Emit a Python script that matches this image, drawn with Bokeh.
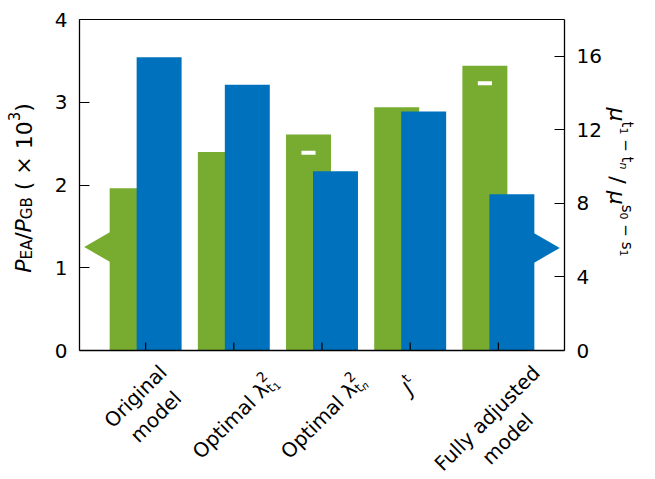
import math
from bokeh.plotting import figure
from bokeh.models import Range1d, LinearAxis, Label, FixedTicker, ColumnDataSource
from bokeh.transform import dodge
from bokeh.embed import file_html
from bokeh.resources import INLINE

# ---------------- data ----------------
cat_pos = [1, 2, 3, 4, 5]
power_ratio = [1.96, 2.40, 2.61, 2.94, 3.44]      # P_EA/P_GB (x10^3), left axis
mu_ratio = [15.95, 14.45, 9.75, 13.0, 8.5]        # mu^{t1-tn}/mu^{s0-s1}, right axis
mark_pos = [3, 5]
mark_val = [2.39, 3.23]                           # white reference marks (left axis)
left_arrow_x = [0.5]
left_arrow_val = [1.25]                           # left axis
right_arrow_x = [5.5]
right_arrow_val = [5.58]                          # right axis
left_ticks = [0, 1, 2, 3, 4]
right_ticks = [0, 4, 8, 12, 16]
X_LIM = (0.25, 5.75)
Y_LIM = (0, 4)
MU_LIM = (0, 18)

GREEN = "#77AC30"
BLUE = "#0072BD"
FONT = "DejaVu Sans"

# canvas geometry (plot box at px 79..564 horizontally, 19..350 vertically)
CW_PX, CH_PX = 650, 475
BOX_L, BOX_R, BOX_T, BOX_B = 79, 564, 19, 350
xpu = (BOX_R - BOX_L) / (X_LIM[1] - X_LIM[0])
ypu = (BOX_B - BOX_T) / (Y_LIM[1] - Y_LIM[0])
x_rng = Range1d(X_LIM[0] - BOX_L / xpu, X_LIM[1] + (CW_PX - BOX_R) / xpu)
y_lo = Y_LIM[0] - (CH_PX - BOX_B) / ypu
y_hi = Y_LIM[1] + BOX_T / ypu
k = (MU_LIM[1] - MU_LIM[0]) / (Y_LIM[1] - Y_LIM[0])

p = figure(width=CW_PX, height=CH_PX, x_range=x_rng, y_range=Range1d(y_lo, y_hi),
           output_backend="svg", toolbar_location=None,
           min_border_left=0, min_border_right=0, min_border_top=0, min_border_bottom=0)
p.extra_y_ranges = {"mu": Range1d(y_lo * k, y_hi * k)}
p.xgrid.visible = False
p.ygrid.visible = False
p.outline_line_color = None

def style_axis(ax):
    ax.axis_line_color = "black"
    ax.axis_line_width = 1.3
    ax.major_tick_line_color = "black"
    ax.major_tick_line_width = 1.2
    ax.major_tick_in = 10
    ax.major_tick_out = 0
    ax.minor_tick_in = 0
    ax.minor_tick_out = 0
    ax.major_label_text_font = FONT
    ax.major_label_text_font_size = "20px"
    ax.major_label_text_color = "black"
    ax.major_label_standoff = 12

ly = p.yaxis[0]
style_axis(ly)
ly.ticker = FixedTicker(ticks=left_ticks)
ly.fixed_location = X_LIM[0]
ly.bounds = Y_LIM

bx = p.xaxis[0]
style_axis(bx)
bx.ticker = FixedTicker(ticks=[])
bx.fixed_location = Y_LIM[0]
bx.bounds = X_LIM

rax = LinearAxis(y_range_name="mu", ticker=FixedTicker(ticks=right_ticks))
style_axis(rax)
rax.fixed_location = X_LIM[1]
rax.bounds = MU_LIM
p.add_layout(rax, "right")

tax = LinearAxis(ticker=FixedTicker(ticks=[]))
tax.axis_line_color = "black"
tax.axis_line_width = 1.2
tax.major_tick_in = 0
tax.major_tick_out = 0
tax.minor_tick_in = 0
tax.minor_tick_out = 0
tax.fixed_location = Y_LIM[1]
tax.bounds = X_LIM
p.add_layout(tax, "above")

# arrows (behind bars)
p.scatter(x=left_arrow_x, y=left_arrow_val, marker="triangle", size=30, angle=math.pi / 2,
          fill_color=GREEN, line_color=None)
p.scatter(x=right_arrow_x, y=right_arrow_val, marker="triangle", size=30, angle=-math.pi / 2,
          fill_color=BLUE, line_color=None, y_range_name="mu")

src = ColumnDataSource(dict(x=cat_pos, g=power_ratio, b=mu_ratio))
OFF = 0.153
BW = 0.51
p.vbar(x=dodge("x", -OFF, range=p.x_range), top="g", width=BW, source=src,
       fill_color=GREEN, line_color=None)
p.vbar(x=dodge("x", OFF, range=p.x_range), top="b", width=BW, source=src,
       fill_color=BLUE, line_color=None, y_range_name="mu")

# category tick marks on the bottom axis (pointing inward)
p.ray(x=cat_pos, y=[Y_LIM[0]] * len(cat_pos), length=8, length_units="screen",
      angle=math.pi / 2, line_color="black", line_width=1.2)

msrc = ColumnDataSource(dict(x=mark_pos, y=mark_val))
p.rect(x=dodge("x", -OFF, range=p.x_range), y="y", width=0.16, height=4, height_units="screen",
       source=msrc, fill_color="white", line_color=None)

# ---------------- text composition ----------------
CWID = {' ': 0.318, '(': 0.390, ')': 0.390, '×': 0.838, '−': 0.838, '/': 0.337,
        '0': 0.636, '1': 0.636, '2': 0.636, '3': 0.636, 'P': 0.603, 'E': 0.632,
        'A': 0.684, 'G': 0.775, 'B': 0.686, 'μ': 0.636, 't': 0.392, 's': 0.521,
        'n': 0.634, 'O': 0.787, 'p': 0.635, 'i': 0.278, 'm': 0.974, 'a': 0.613,
        'l': 0.278, 'λ': 0.592, 'J': 0.295}

def text_w(s, size):
    return sum(CWID.get(c, 0.6) for c in s) * size

def compose(runs, cx, cy, angle, lift=0.0, x_data=None):
    d = (math.cos(angle), math.sin(angle))
    u = (-math.sin(angle), math.cos(angle))
    advs = [(r[4] if r[4] is not None else text_w(r[0], r[1])) for r in runs]
    total = sum(advs)
    sx = cx - d[0] * total / 2 - u[0] * lift
    sy = cy - d[1] * total / 2 - u[1] * lift
    pos = 0.0
    for (t, size, italic, shift, _), adv in zip(runs, advs):
        lead = len(t) - len(t.lstrip(" "))
        txt = t.strip(" ")
        q = pos + text_w(" " * lead, size)
        x = sx + d[0] * q + u[0] * shift
        y = sy + d[1] * q + u[1] * shift
        pos += adv
        if not txt:
            continue
        kw = dict(text=txt, angle=angle, text_font=FONT, text_font_size=f"{size}px",
                  text_font_style="italic" if italic else "normal", text_color="black",
                  text_align="left", text_baseline="alphabetic", y=y, y_units="screen")
        if x_data is None:
            lab = Label(x=x, x_units="screen", **kw)
        else:
            lab = Label(x=x_data, x_units="data", x_offset=x, **kw)
        p.add_layout(lab)

def sy_of(page_y):
    return CH_PX - page_y

# left axis label: P_EA/P_GB ( x 10^3 )
compose([("P", 22, True, 0, None), ("EA", 15, False, -3, None), ("/", 22, False, 0, None),
         ("P", 22, True, 0, None), ("GB", 15, False, -3, None), (" (", 22, False, 0, None),
         (" × ", 22, False, 0, None), ("10", 22, False, 0, None),
         ("3", 15, False, 10, None), (")", 22, False, 0, None)],
        23, sy_of(187.5), math.pi / 2)

# right axis label: mu^{t1 - tn} / mu^{s0 - s1}
compose([("μ", 22, True, 0, None), ("t", 15, False, 9, None), ("1", 11, False, 6, None),
         (" − ", 15, False, 9, None), ("t", 15, False, 9, None), ("n", 11, True, 6, None),
         (" / ", 22, False, 0, None),
         ("μ", 22, True, 0, None), ("s", 15, False, 9, None), ("0", 11, False, 6, None),
         (" − ", 15, False, 9, None), ("s", 15, False, 9, None), ("1", 11, False, 6, None)],
        617, sy_of(181.5), -math.pi / 2)

A45 = math.pi / 4
# category labels
p.add_layout(Label(x=1, x_offset=0, y=sy_of(406), y_units="screen", text="Original\nmodel", angle=A45,
                   text_align="center", text_baseline="middle", text_font=FONT,
                   text_font_size="20px", text_color="black"))
compose([("Optimal λ", 20, False, 0, None), ("2", 14, False, 9, 0.0), ("t", 14, False, -5, None),
         ("1", 10, False, -8, None)], -4, sy_of(411), A45, lift=7, x_data=2)
compose([("Optimal λ", 20, False, 0, None), ("2", 14, False, 9, 0.0), ("t", 14, False, -5, None),
         ("n", 10, True, -8, None)], -4, sy_of(411), A45, lift=7, x_data=3)
compose([("J", 20, True, 0, None), ("t", 14, False, 9, None)], -5, sy_of(381), A45, lift=7, x_data=4)
p.add_layout(Label(x=5, x_offset=-1, y=sy_of(428), y_units="screen", text="Fully adjusted\nmodel", angle=A45,
                   text_align="center", text_baseline="middle", text_font=FONT,
                   text_font_size="20px", text_color="black"))

open("out.html", "w").write(file_html(p, INLINE))
